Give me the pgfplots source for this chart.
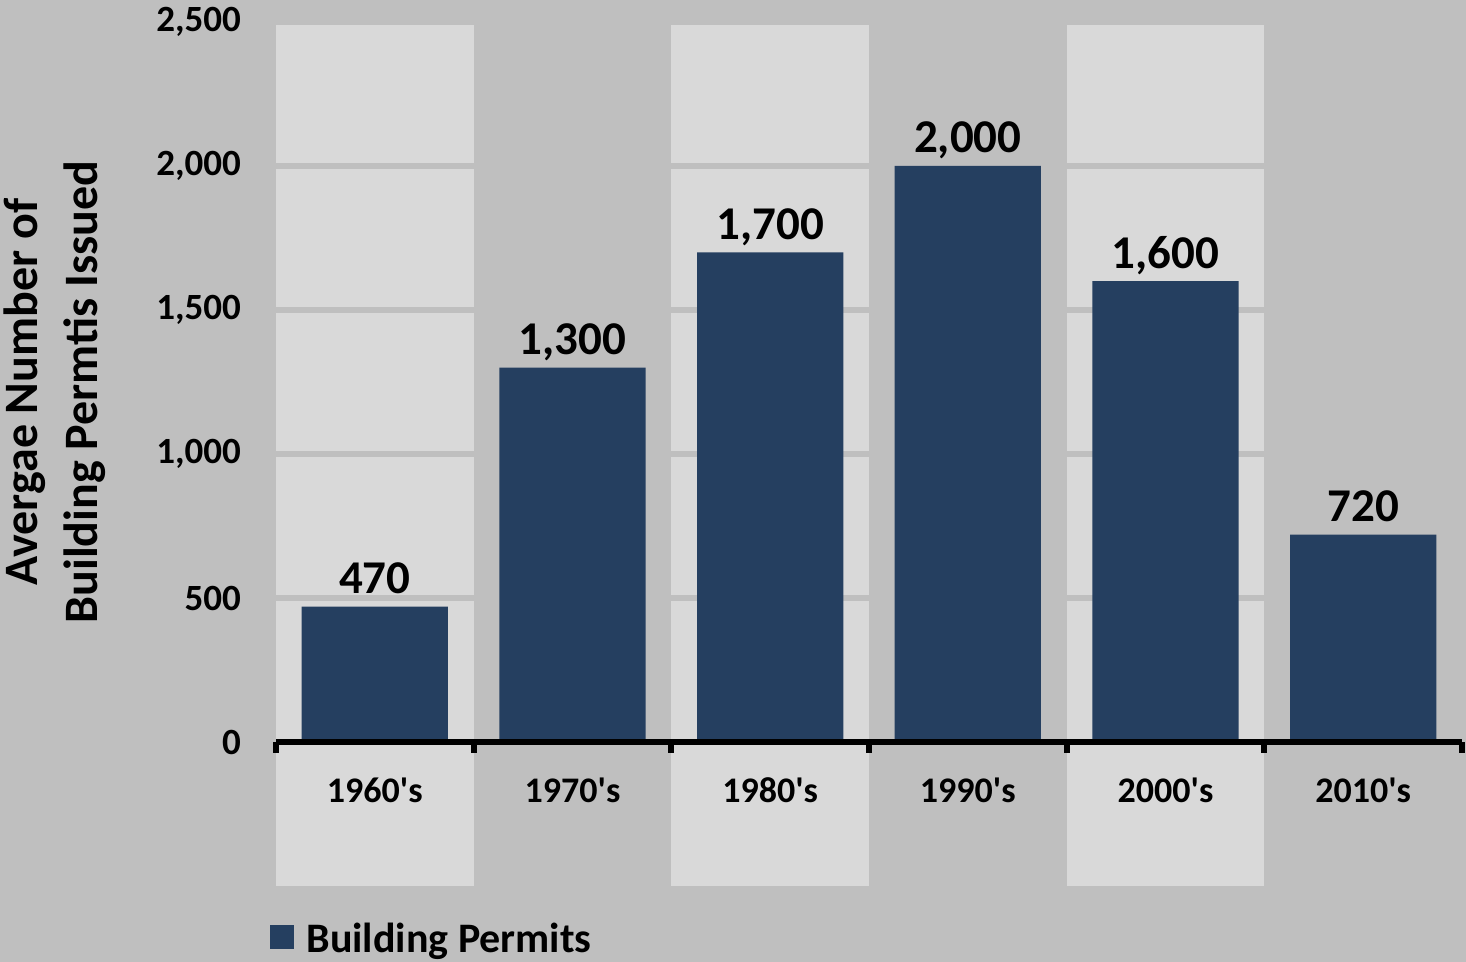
\documentclass[border=0pt]{standalone}
\usepackage{pgfplots}
\pgfplotsset{compat=1.18}
\usepackage{fontspec}
\setmainfont{Carlito}[Ligatures=TeXOff]
\definecolor{bgc}{HTML}{BFBFBF}
\definecolor{stripe}{HTML}{D9D9D9}
\definecolor{barc}{HTML}{253F60}
\pgfplotsset{common/.style={at={(138pt,110pt)}, anchor=south west,
  scale only axis, width=593pt, height=360pt,
  xmin=-0.5, xmax=5.5, ymin=0, ymax=2500, clip=false}}
\begin{document}
\begin{tikzpicture}[x=1pt,y=1pt]
\fill[bgc] (0,0) rectangle (733,481);
\useasboundingbox (0,0) rectangle (733,481);
\begin{axis}[common, hide axis]
\fill[stripe] (axis cs:-0.5,-500) rectangle (axis cs:0.5,2500);
\fill[stripe] (axis cs:1.5,-500) rectangle (axis cs:2.5,2500);
\fill[stripe] (axis cs:3.5,-500) rectangle (axis cs:4.5,2500);
\draw[bgc, line width=2.8pt] (axis cs:-0.5,500) -- (axis cs:5.5,500);
\draw[bgc, line width=2.8pt] (axis cs:-0.5,1000) -- (axis cs:5.5,1000);
\draw[bgc, line width=2.8pt] (axis cs:-0.5,1500) -- (axis cs:5.5,1500);
\draw[bgc, line width=2.8pt] (axis cs:-0.5,2000) -- (axis cs:5.5,2000);
\draw[bgc, line width=2.8pt] (axis cs:-0.5,2500) -- (axis cs:5.5,2500);
\end{axis}
\begin{axis}[
  common,
  ybar, bar width=0.74,
  axis x line*=bottom, axis y line*=left,
  axis on top,
  x axis line style={line width=3pt, black, -},
  y axis line style={draw=none},
  xtick={0,...,5},
  xticklabels={1960's,1970's,1980's,1990's,2000's,2010's},
  minor xtick={-0.5,0.5,...,5.5},
  major tick length=0pt, minor tick length=5.5pt,
  tick align=outside,
  minor tick style={line width=3pt, black},
  ytick={0,500,...,2500},
  /pgf/number format/.cd, 1000 sep={,}, assume math mode=true, /pgfplots/.cd,
  yticklabel style={font=\bfseries\fontsize{18.5}{20}\selectfont, xshift=-14pt},
  xticklabel style={font=\bfseries\fontsize{18}{20}\selectfont, yshift=-14.5pt},
  ylabel={Avergae Number of\\Building Permtis Issued},
  ylabel style={font=\bfseries\fontsize{24}{30}\selectfont, align=center,
    at={(axis description cs:-0.1863,0.486)}, anchor=center},
  nodes near coords,
  nodes near coords style={font=\bfseries\fontsize{23.5}{28}\selectfont, anchor=base, yshift=6.5pt, black},
  legend style={at={(axis description cs:-0.005,-0.274)}, anchor=west, draw=none, fill=none,
    font=\bfseries\fontsize{21}{25}\selectfont, inner sep=0pt,
    /tikz/every odd column/.append style={column sep=4pt}},
  legend image code/.code={\fill[barc] (0pt,-5pt) rectangle (12pt,7pt);},
]
\addplot[fill=barc, draw=none] coordinates {(0,470) (1,1300) (2,1700) (3,2000) (4,1600) (5,720)};
\addlegendentry{Building Permits}
\end{axis}
\end{tikzpicture}
\end{document}
